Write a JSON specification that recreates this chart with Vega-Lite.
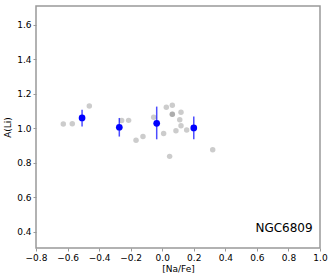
{
  "$schema": "https://vega.github.io/schema/vega-lite/v6.json",
  "width": 284,
  "height": 242,
  "autosize": "none",
  "padding": {"left": 36, "top": 6, "right": 12, "bottom": 31},
  "background": "white",
  "config": {
    "view": {"stroke": "#999999", "strokeWidth": 1.5},
    "axis": {
      "grid": false,
      "domain": false,
      "tickColor": "#999999",
      "tickSize": 3,
      "labelFont": "DejaVu Sans",
      "labelFontSize": 9,
      "labelColor": "black",
      "titleFont": "DejaVu Sans",
      "titleFontSize": 9,
      "titleFontWeight": "normal",
      "titleColor": "black",
      "labelPadding": 2
    }
  },
  "datasets": {
    "stars": [
      {"na": -0.627, "li": 1.025},
      {"na": -0.57, "li": 1.027},
      {"na": -0.462, "li": 1.13},
      {"na": -0.257, "li": 1.045},
      {"na": -0.213, "li": 1.046},
      {"na": -0.166, "li": 0.93},
      {"na": -0.122, "li": 0.952},
      {"na": -0.054, "li": 1.064},
      {"na": 0.009, "li": 0.97},
      {"na": 0.026, "li": 1.122},
      {"na": 0.047, "li": 0.837},
      {"na": 0.064, "li": 1.134},
      {"na": 0.064, "li": 1.081},
      {"na": 0.064, "li": 1.081},
      {"na": 0.087, "li": 0.986},
      {"na": 0.111, "li": 1.05},
      {"na": 0.119, "li": 1.015},
      {"na": 0.119, "li": 1.093},
      {"na": 0.155, "li": 0.99},
      {"na": 0.32, "li": 0.876}
    ],
    "bins": [
      {"na": -0.508, "li": 1.06, "lo": 1.01, "hi": 1.108},
      {"na": -0.272, "li": 1.006, "lo": 0.952, "hi": 1.06},
      {"na": -0.035, "li": 1.029, "lo": 0.936, "hi": 1.126},
      {"na": 0.2, "li": 1.002, "lo": 0.936, "hi": 1.068}
    ],
    "label": [{"na": 0.772, "li": 0.42, "text": "NGC6809"}]
  },
  "encoding": {
    "x": {
      "field": "na", "type": "quantitative",
      "scale": {"domain": [-0.8, 1.0], "nice": false, "zero": false},
      "axis": {"title": "[Na/Fe]", "values": [-0.8, -0.6, -0.4, -0.2, 0, 0.2, 0.4, 0.6, 0.8, 1.0], "format": ".1f", "labelExpr": "replace(datum.label, '-', '−')", "titlePadding": 2, "labelFlush": false}
    },
    "y": {
      "field": "li", "type": "quantitative",
      "scale": {"domain": [0.305, 1.71], "nice": false, "zero": false},
      "axis": {"title": "A(Li)", "values": [0.4, 0.6, 0.8, 1.0, 1.2, 1.4, 1.6], "format": ".1f", "titlePadding": 4, "labelFlush": false}
    }
  },
  "layer": [
    {
      "data": {"name": "stars"},
      "mark": {"type": "circle", "size": 30, "color": "#808080", "opacity": 0.4}
    },
    {
      "data": {"name": "bins"},
      "mark": {"type": "rule", "color": "#0000ff", "opacity": 0.7, "strokeWidth": 1.5},
      "encoding": {"y": {"field": "lo", "type": "quantitative"}, "y2": {"field": "hi"}}
    },
    {
      "data": {"name": "bins"},
      "mark": {"type": "circle", "size": 45, "color": "#0000ff", "opacity": 1}
    },
    {
      "data": {"name": "label"},
      "mark": {"type": "text", "font": "DejaVu Sans", "fontSize": 12, "color": "black", "align": "center", "baseline": "middle"},
      "encoding": {"text": {"field": "text"}}
    }
  ]
}
